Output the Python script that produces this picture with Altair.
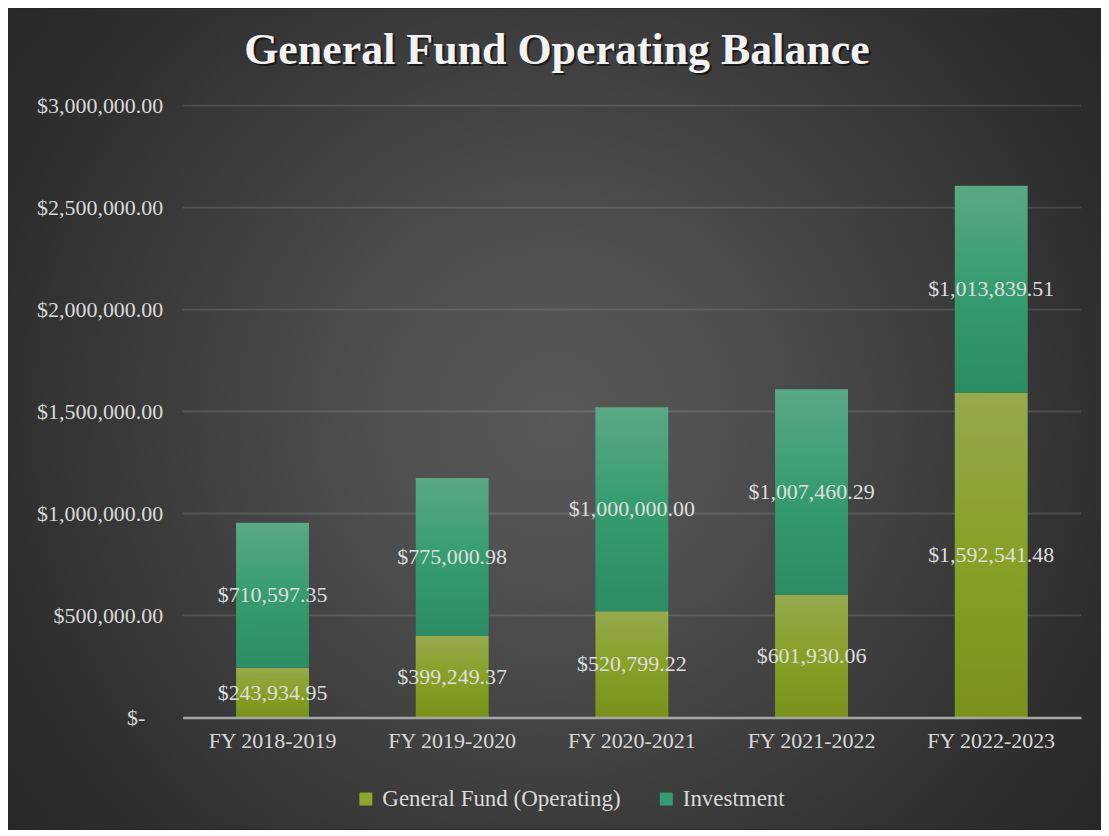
import altair as alt
import pandas as pd

years = ["FY 2018-2019", "FY 2019-2020", "FY 2020-2021", "FY 2021-2022", "FY 2022-2023"]
general_fund = [243934.95, 399249.37, 520799.22, 601930.06, 1592541.48]
investment = [710597.35, 775000.98, 1000000.00, 1007460.29, 1013839.51]
series = ["General Fund (Operating)", "Investment"]
series_colors = ["#8ca52c", "#339c70"]
tick_values = [0, 500000, 1000000, 1500000, 2000000, 2500000, 3000000]
grid_values = tick_values[1:]
title_text = "General Fund Operating Balance"

df = pd.DataFrame({"year": years, "gf": general_fund, "inv": investment})
grid_df = pd.DataFrame({"tick": grid_values})
legend_df = pd.DataFrame({"series": series})

FONT = "Liberation Serif"
LABEL = "#d9d9d9"
W, H = 900, 613
PAD = {"left": 175, "top": 97, "right": 20, "bottom": 112}

yscale = alt.Scale(domain=[0, 3000000], nice=False, zero=True)
yaxis = alt.Axis(
    title=None, values=tick_values, grid=False, domain=False, ticks=False,
    labelPadding={"condition": {"test": "datum.value === 0", "value": 38}, "value": 20},
    labelFontSize=22, labelFont=FONT, labelColor=LABEL,
    labelExpr="datum.value == 0 ? '$-' : format(datum.value, '$,.2f')",
    labelLimit=0, zindex=1,
)
xenc = alt.X(
    "year:N", sort=years,
    scale=alt.Scale(paddingInner=0.594, paddingOuter=0.297),
    axis=alt.Axis(
        title=None, labelAngle=0, ticks=False, domain=True, domainColor="#a6a6a6",
        domainWidth=2.5, grid=False, labelPadding=13, labelFontSize=22,
        labelFont=FONT, labelColor=LABEL, labelLimit=0, zindex=1,
    ),
)

bg = alt.Chart(alt.Data(values=[{}])).mark_rect(
    fill=alt.RadialGradient(
        gradient="radial",
        x1=0.5, y1=0.5, r1=0, x2=0.5, y2=0.5, r2=0.66,
        stops=[
            alt.GradientStop(color="#585858", offset=0),
            alt.GradientStop(color="#4f4f4f", offset=0.25),
            alt.GradientStop(color="#383838", offset=0.62),
            alt.GradientStop(color="#2d2d2d", offset=0.8),
            alt.GradientStop(color="#262626", offset=1),
        ],
    )
).encode(
    x=alt.value(-PAD["left"]), x2=alt.value(W + PAD["right"]),
    y=alt.value(-PAD["top"]), y2=alt.value(H + PAD["bottom"]),
)

grid = alt.Chart(grid_df).mark_rule(color="#ffffff", opacity=0.12, strokeWidth=1.8).encode(
    y=alt.Y("tick:Q", scale=yscale, axis=yaxis)
)

base = alt.Chart(df).transform_calculate(
    total="datum.gf + datum.inv",
    gf_mid="datum.gf / 2",
    inv_mid="datum.gf + datum.inv / 2",
)

gf_grad = alt.LinearGradient(
    gradient="linear", x1=0, y1=0, x2=0, y2=1,
    stops=[
        alt.GradientStop(color="#96a94f", offset=0),
        alt.GradientStop(color="#87a026", offset=0.5),
        alt.GradientStop(color="#7a921c", offset=1),
    ],
)
inv_grad = alt.LinearGradient(
    gradient="linear", x1=0, y1=0, x2=0, y2=1,
    stops=[
        alt.GradientStop(color="#5aa886", offset=0),
        alt.GradientStop(color="#369c70", offset=0.5),
        alt.GradientStop(color="#2c8c63", offset=1),
    ],
)

gf_bar = base.mark_bar(fill=gf_grad).encode(
    x=xenc, y=alt.Y("gf:Q", scale=yscale, axis=yaxis)
)
inv_bar = base.mark_bar(fill=inv_grad).encode(
    x=xenc, y=alt.Y("total:Q", scale=yscale, axis=yaxis), y2="gf:Q"
)
text_style = dict(font=FONT, fontSize=22, color="#dedede", align="center", baseline="middle")
gf_text = base.mark_text(**text_style).encode(
    x=xenc, y=alt.Y("gf_mid:Q", scale=yscale, axis=yaxis),
    text=alt.Text("gf:Q", format="$,.2f"),
)
inv_text = base.mark_text(**text_style).encode(
    x=xenc, y=alt.Y("inv_mid:Q", scale=yscale, axis=yaxis),
    text=alt.Text("inv:Q", format="$,.2f"),
)

legend_layer = alt.Chart(legend_df).mark_square(opacity=0, size=1).encode(
    color=alt.Color(
        "series:N",
        scale=alt.Scale(domain=series, range=series_colors),
        legend=alt.Legend(
            title=None, orient="none", legendX=172, legendY=683, direction="horizontal",
            symbolType="square", symbolSize=169, symbolOpacity=1, symbolStrokeWidth=0,
            labelFont=FONT, labelFontSize=23, labelColor=LABEL, labelOffset=5,
            columnPadding=34, labelLimit=0,
        ),
    )
)

title_kw = dict(text=title_text, font=FONT, fontSize=44, fontWeight="bold",
                align="center", baseline="alphabetic")
title_shadow = alt.Chart(alt.Data(values=[{}])).mark_text(
    color="#000000", opacity=0.55, dx=2, dy=2, **title_kw
).encode(x=alt.value(375), y=alt.value(-42))
title = alt.Chart(alt.Data(values=[{}])).mark_text(color="#f2f2f2", **title_kw).encode(
    x=alt.value(375), y=alt.value(-42)
)

chart = alt.layer(
    bg, grid, gf_bar, inv_bar, gf_text, inv_text, legend_layer, title_shadow, title
).properties(
    width=W, height=H, padding=PAD, autosize=alt.AutoSizeParams(type="none"),
    background="#262626",
).configure_view(stroke=None)

chart.save("out.html", embed_options={"renderer": "svg", "actions": False})
